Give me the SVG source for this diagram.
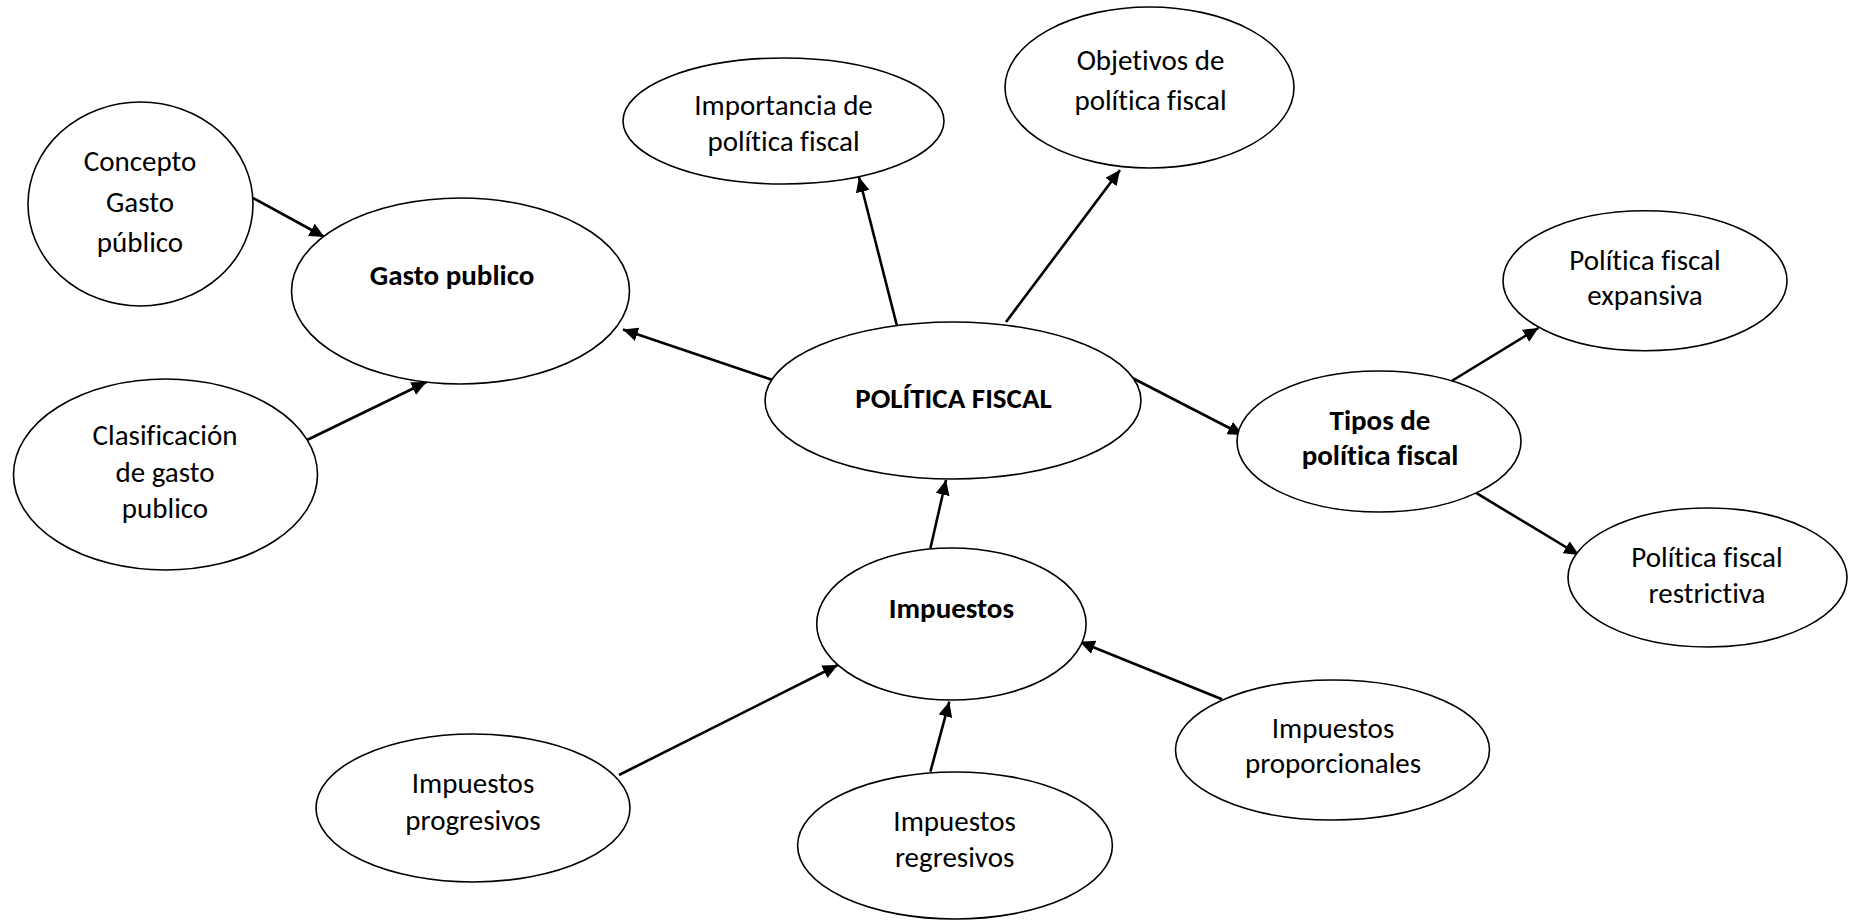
<svg xmlns="http://www.w3.org/2000/svg" width="1858" height="920" viewBox="0 0 1858 920">
  <style>
    .node ellipse { fill: #ffffff; stroke: #000000; stroke-width: 1.6; }
    .node text { font-family: Carlito, Calibri, Lato, "Liberation Sans", sans-serif; font-size: 29px; fill: #000000; text-anchor: middle; font-variant-ligatures: none; font-feature-settings: "liga" 0, "clig" 0; }
    .node text.b { font-weight: bold; }
    #connectors line { stroke: #000000; stroke-width: 2.6; marker-end: url(#arrow); }
  </style>
  <defs>
    <marker id="arrow" markerUnits="userSpaceOnUse" markerWidth="16" markerHeight="14" refX="15" refY="7" orient="auto">
      <path d="M0,0 L15,7 L0,14 z" fill="#000000"/>
    </marker>
  </defs>
  <rect width="1858" height="920" fill="#ffffff"/>

  <g id="connectors">
    <line x1="253" y1="198" x2="324.5" y2="237"/>
    <line x1="305" y1="441" x2="426.5" y2="382"/>
    <line x1="772.6" y1="380" x2="623" y2="329.5"/>
    <line x1="897" y1="326" x2="859" y2="177"/>
    <line x1="1006" y1="322" x2="1120" y2="170"/>
    <line x1="1132.4" y1="378" x2="1243" y2="435"/>
    <line x1="1451.7" y1="381" x2="1538.4" y2="328"/>
    <line x1="1475.7" y1="492.7" x2="1579" y2="555"/>
    <line x1="930.4" y1="548.3" x2="946" y2="480"/>
    <line x1="619" y1="775" x2="837.8" y2="665"/>
    <line x1="930.4" y1="771.7" x2="949.3" y2="701.7"/>
    <line x1="1222" y1="699.3" x2="1079.8" y2="641.7"/>
  </g>

  <g id="concepto-gasto" class="node">
    <ellipse cx="140.5" cy="204" rx="112.5" ry="102"/>
    <text x="140" y="170.7">Concepto</text>
    <text x="140" y="211.7">Gasto</text>
    <text x="140" y="252">público</text>
  </g>

  <g id="gasto-publico" class="node">
    <ellipse cx="460.5" cy="291" rx="169" ry="93"/>
    <text class="b" x="452" y="285">Gasto publico</text>
  </g>

  <g id="clasificacion" class="node">
    <ellipse cx="165.5" cy="474.5" rx="152" ry="95.5"/>
    <text x="165" y="445">Clasificación</text>
    <text x="165" y="481.7">de gasto</text>
    <text x="165" y="518">publico</text>
  </g>

  <g id="importancia" class="node">
    <ellipse cx="783.5" cy="121" rx="160.5" ry="63"/>
    <text x="783.5" y="115">Importancia de</text>
    <text x="783.5" y="150.7">política fiscal</text>
  </g>

  <g id="objetivos" class="node">
    <ellipse cx="1149.5" cy="87.5" rx="144.5" ry="80.5"/>
    <text x="1150.5" y="70">Objetivos de</text>
    <text x="1150.5" y="110">política fiscal</text>
  </g>

  <g id="politica-fiscal" class="node">
    <ellipse cx="953" cy="400.5" rx="188" ry="78.5"/>
    <text class="b" x="953.5" y="408">POLÍTICA FISCAL</text>
  </g>

  <g id="expansiva" class="node">
    <ellipse cx="1645" cy="280.7" rx="142" ry="70"/>
    <text x="1645" y="270">Política fiscal</text>
    <text x="1645" y="305">expansiva</text>
  </g>

  <g id="tipos" class="node">
    <ellipse cx="1379" cy="441.5" rx="142" ry="70.5"/>
    <text class="b" x="1380" y="430">Tipos de</text>
    <text class="b" x="1380" y="465">política fiscal</text>
  </g>

  <g id="restrictiva" class="node">
    <ellipse cx="1707.5" cy="577.5" rx="139.5" ry="69.5"/>
    <text x="1707" y="566.7">Política fiscal</text>
    <text x="1707" y="602.7">restrictiva</text>
  </g>

  <g id="impuestos" class="node">
    <ellipse cx="951.4" cy="624" rx="134.7" ry="76"/>
    <text class="b" x="951.4" y="618">Impuestos</text>
  </g>

  <g id="proporcionales" class="node">
    <ellipse cx="1332.5" cy="750" rx="157" ry="70"/>
    <text x="1333" y="738">Impuestos</text>
    <text x="1333" y="773">proporcionales</text>
  </g>

  <g id="progresivos" class="node">
    <ellipse cx="473" cy="808" rx="157" ry="74"/>
    <text x="473" y="793">Impuestos</text>
    <text x="473" y="830">progresivos</text>
  </g>

  <g id="regresivos" class="node">
    <ellipse cx="955" cy="845.5" rx="157.4" ry="73.5"/>
    <text x="954.6" y="830.7">Impuestos</text>
    <text x="954.6" y="866.7">regresivos</text>
  </g>
</svg>
